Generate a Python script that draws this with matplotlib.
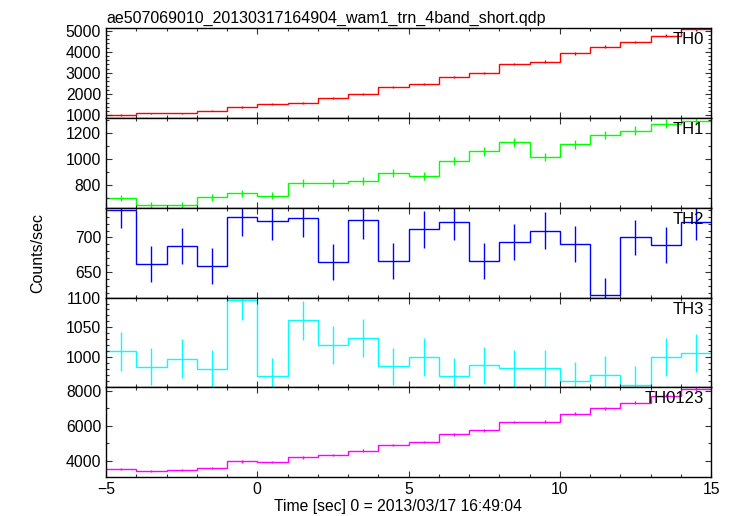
import numpy as np
import matplotlib
matplotlib.use("Agg")
import matplotlib.pyplot as plt
from matplotlib.ticker import MultipleLocator, FixedLocator

plt.rcParams['font.family'] = ['Liberation Sans', 'DejaVu Sans']

title = "ae507069010_20130317164904_wam1_trn_4band_short.qdp"
xlabel = "Time [sec] 0 = 2013/03/17 16:49:04"
ylabel = "Counts/sec"

time_center = [-4.5, -3.5, -2.5, -1.5, -0.5, 0.5, 1.5, 2.5, 3.5, 4.5,
               5.5, 6.5, 7.5, 8.5, 9.5, 10.5, 11.5, 12.5, 13.5, 14.5]
time_halfwidth = 0.5

th0 = [1014, 1095, 1095, 1220, 1380, 1525, 1590, 1830, 2020, 2320,
       2465, 2820, 3010, 3420, 3535, 3930, 4250, 4460, 4760, 5065]
th0_err = [32, 33, 33, 35, 37, 39, 40, 43, 45, 48, 50, 53, 55, 58, 59, 63, 65, 67, 69, 71]

th1 = [702, 648, 648, 709, 737, 719, 818, 818, 834, 895,
       870, 984, 1060, 1131, 1015, 1114, 1187, 1218, 1274, 1297]
th1_err = [26, 25, 25, 27, 27, 27, 29, 29, 29, 30, 29, 31, 33, 34, 32, 33, 34, 35, 36, 36]

th2 = [740, 662, 688, 659, 729, 724, 728, 664, 725, 666,
       712, 723, 666, 694, 710, 690, 616, 700, 689, 723]
th2_err = [27, 26, 26, 26, 27, 27, 27, 26, 27, 26, 27, 27, 26, 26, 27, 26, 25, 26, 26, 27]

th3 = [1010, 984, 998, 981, 1096, 968, 1062, 1021, 1032, 985,
       1000, 968, 987, 982, 982, 961, 971, 954, 1000, 1007]
th3_err = [32, 31, 32, 31, 33, 31, 33, 32, 32, 31, 32, 31, 31, 31, 31, 31, 31, 31, 32, 32]

th0123 = [3533, 3437, 3493, 3589, 3981, 3944, 4208, 4355, 4600, 4900,
          5070, 5520, 5745, 6213, 6235, 6685, 7000, 7320, 7715, 8090]
th0123_err = [59, 59, 59, 60, 63, 63, 65, 66, 68, 70, 71, 74, 76, 79, 79, 82, 84, 86, 88, 90]

names = ["TH0", "TH1", "TH2", "TH3", "TH0123"]
series = [th0, th1, th2, th3, th0123]
errors = [th0_err, th1_err, th2_err, th3_err, th0123_err]
colors = ["#ff0000", "#00ff00", "#0000ff", "#00ffff", "#ff00ff"]
ylims = [(870, 5110), (627, 1317), (613, 743), (950, 1100), (3099, 8186)]
ymajor = [[1000, 2000, 3000, 4000, 5000], [800, 1000, 1200], [650, 700],
          [1000, 1050, 1100], [4000, 6000, 8000]]
yminor = [200, 100, 10, 10, 1000]

fig = plt.figure(figsize=(7.33, 5.16), dpi=100)
left, right = 106 / 733, 711 / 733
top_px, bot_px = 28.3, 477.0
ph = (bot_px - top_px) / 5

tc = np.array(time_center)
edges = np.concatenate([tc - time_halfwidth, [tc[-1] + time_halfwidth]])

for i in range(5):
    y0 = 1 - (top_px + (i + 1) * ph) / 516
    ax = fig.add_axes([left, y0, right - left, ph / 516])
    ax.stairs(series[i], edges, baseline=None, color=colors[i], lw=1.0)
    ax.errorbar(tc, series[i], yerr=errors[i], fmt='none', ecolor=colors[i],
                elinewidth=1.0, capsize=0)
    ax.set_xlim(-5, 15)
    ax.set_ylim(*ylims[i])
    ax.xaxis.set_major_locator(MultipleLocator(5))
    ax.xaxis.set_minor_locator(MultipleLocator(1))
    ax.yaxis.set_major_locator(FixedLocator(ymajor[i]))
    ax.yaxis.set_minor_locator(MultipleLocator(yminor[i]))
    ax.tick_params(which='both', direction='in', top=True, right=True,
                   labelsize=11.3, colors='#333333', labelcolor='black')
    ax.tick_params(which='major', length=4.3, width=0.8)
    ax.tick_params(which='minor', length=2.4, width=0.8)
    for s in ax.spines.values():
        s.set_linewidth(1.0)
        s.set_color('black')
    ax.text(0.988, 0.955, names[i], transform=ax.transAxes, ha='right', va='top',
            fontsize=12)
    if i < 4:
        ax.tick_params(labelbottom=False)
    else:
        ax.set_xlabel(xlabel, fontsize=11.3)
        ax.xaxis.set_label_coords(0.483, -0.245)
    if i == 0:
        ax.set_title(title, fontsize=11.5, loc='left', pad=4)

fig.text(0.052, 1 - (top_px + bot_px) / 2 / 516, ylabel, rotation=90,
         ha='center', va='center', fontsize=11.5)

fig.savefig("out.png", dpi=100)
